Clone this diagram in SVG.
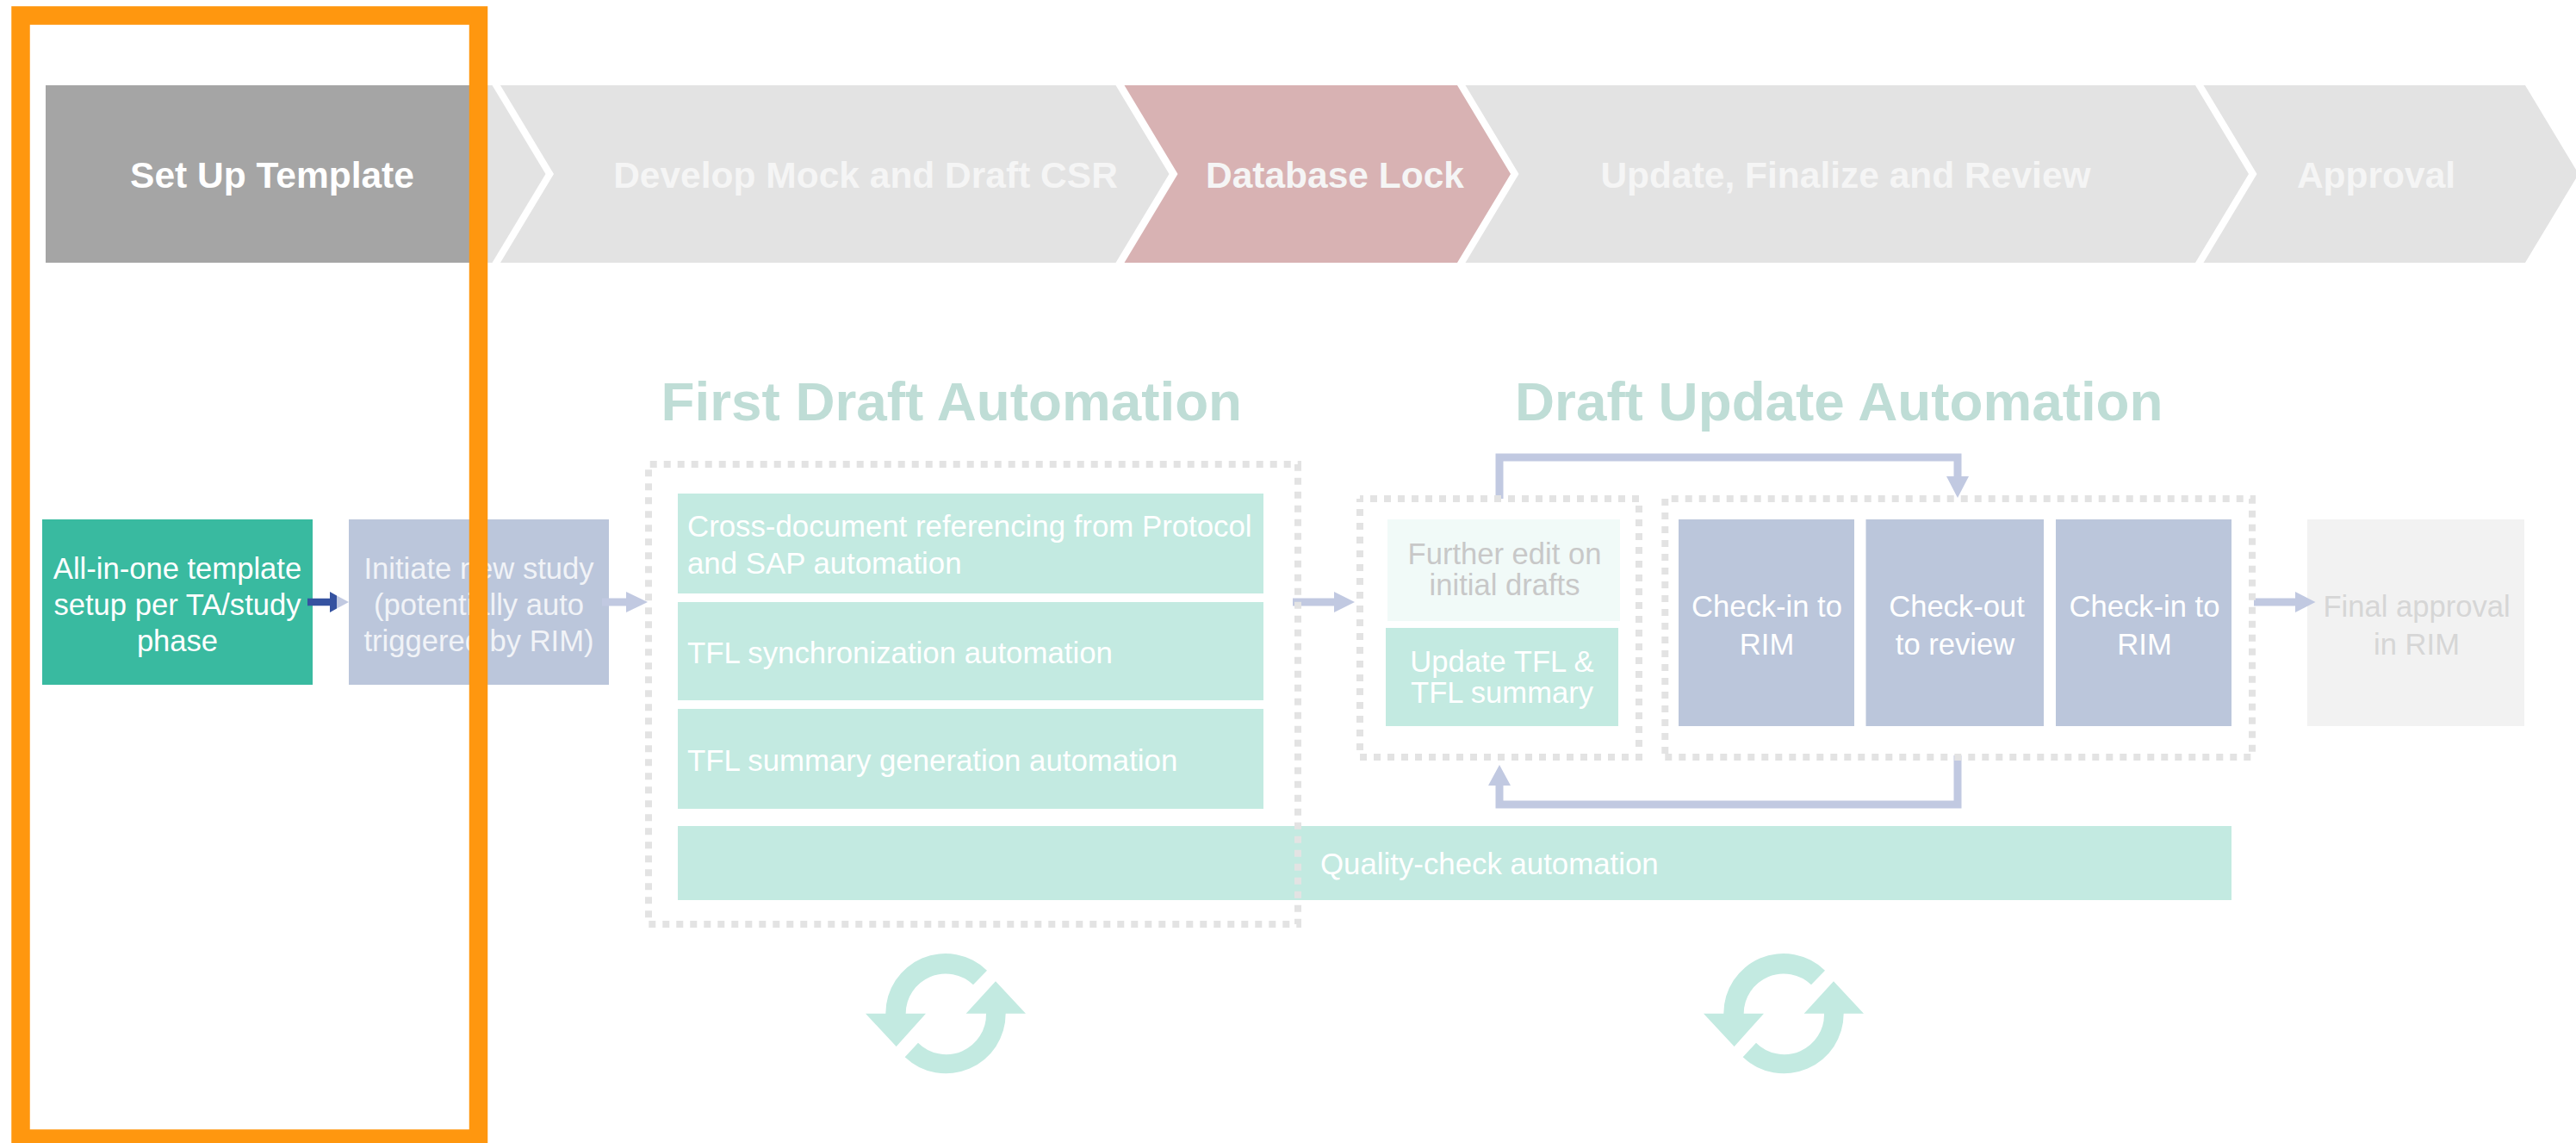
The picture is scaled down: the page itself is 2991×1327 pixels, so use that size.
<svg xmlns="http://www.w3.org/2000/svg" width="2991" height="1327" viewBox="0 0 2991 1327">
<defs>
<style>
text{font-family:"Liberation Sans",Arial,sans-serif}
.n{font-size:34.6px;fill:#fff}
.l{font-size:34.8px;fill:#fff}
.c{text-anchor:middle}
.p{font-size:42.5px;font-weight:700;fill:#f5f5f5}
.h{font-size:63.8px;font-weight:700;fill:#bfddd6}
.soft{fill:#f1faf8}
.m{fill:#c3eae1}
.b{fill:#bbc6db}
.dot{fill:none;stroke:#e3e3e3;stroke-width:8;stroke-dasharray:8 8}
.conn{fill:none;stroke:#c1c9e1;stroke-width:9}
.ah{fill:#c1c9e1}
.ring{fill:#c3eae1}
.g{fill:#c8c8c8}
.f{fill:#d6d6d6}
.s{fill:#f1f3f7}
</style>
</defs>
<g id="phase-set-up">
<rect x="53" y="99" width="492" height="206" fill="#a5a5a5"/>
<path d="M566 99H571.500L633.500 202L571.500 305H566Z" fill="#e3e3e3"/>
<text class="p c" x="316" y="217.500" style="fill:#fff">Set Up Template</text>
</g>
<g id="phase-develop">
<path d="M581 99H1295.500L1357.500 202L1295.500 305H581L643 202Z" fill="#e3e3e3"/>
<text class="p c" x="1005" y="217.500">Develop Mock and Draft CSR</text>
</g>
<g id="phase-lock">
<path d="M1305.500 99H1692L1754 202L1692 305H1305.500L1367.500 202Z" fill="#d8b2b3"/>
<text class="p c" x="1550" y="217.500">Database Lock</text>
</g>
<g id="phase-update">
<path d="M1701.500 99H2549L2611 202L2549 305H1701.500L1763.500 202Z" fill="#e3e3e3"/>
<text class="p c" x="2143" y="217.500">Update, Finalize and Review</text>
</g>
<g id="phase-approval">
<path d="M2558.500 99H2932L2994 202L2932 305H2558.500L2620.500 202Z" fill="#e3e3e3"/>
<text class="p c" x="2759" y="217.500">Approval</text>
</g>
<g id="title-first"><text class="h" x="767.500" y="488">First Draft Automation</text></g>
<g id="title-update"><text class="h" x="1759" y="488">Draft Update Automation</text></g>
<g id="template"><rect x="49" y="603" width="314" height="192" fill="#39baa0"/>
<text class="n c" x="206" y="671.500">All-in-one template</text><text class="n c" x="206" y="713.500">setup per TA/study</text><text class="n c" x="206" y="755.500">phase</text></g>
<g id="initiate"><rect class="b" x="405" y="603" width="302" height="192"/>
<text class="n c s" x="556" y="671.500">Initiate new study</text><text class="n c s" x="556" y="713.500">(potentially auto</text><text class="n c s" x="556" y="755.500">triggered by RIM)</text></g>
<g id="quality"><rect class="m" x="787" y="959" width="1804" height="86"/><text class="l" x="1533" y="1015">Quality-check automation</text></g>
<g id="cross"><rect class="m" x="787" y="573" width="680" height="116"/><text class="l" x="798" y="623">Cross-document referencing from Protocol</text><text class="l" x="798" y="665.500">and SAP automation</text></g>
<g id="sync"><rect class="m" x="787" y="699" width="680" height="114"/><text class="l" x="798" y="769.500">TFL synchronization automation</text></g>
<g id="summary"><rect class="m" x="787" y="823" width="680" height="116"/><text class="l" x="798" y="894.500">TFL summary generation automation</text></g>
<g id="final"><rect x="2679" y="603" width="252" height="240" fill="#f2f2f2"/><text class="n c f" x="2806" y="716">Final approval</text><text class="n c f" x="2806" y="760">in RIM</text></g>
<g id="connectors">
<path d="M391 691.400L405 699L391 706.600Z" class="ah"/>
<path d="M357 694.700H383V687L391 691.400V706.600L383 711V703.300H357Z" fill="#3552a0"/>
<path class="conn" d="M699 699H730"/><path class="ah" d="M727 687L752 699L727 711Z"/>
<path class="conn" d="M1501 699H1552"/><path class="ah" d="M1549 687L1573 699L1549 711Z"/>
<path class="conn" d="M2617 699H2668"/><path class="ah" d="M2665 687L2688.500 699L2665 711Z"/>
<path class="conn" d="M1741 579V531H2273V556"/><path class="ah" d="M2260 553H2286L2273 578Z"/>
<path class="conn" d="M2273 877V934H1741V909"/><path class="ah" d="M1728 912H1754L1741 888Z"/>
</g>
<g id="box-first"><path class="dot" style="stroke-dashoffset:14.300" d="M753 539H1507V1073H753"/><path class="dot" d="M753 545.300V1073"/></g>
<g id="box-edit"><path class="dot" style="stroke-dashoffset:4" d="M1579 579H1903V879H1579V579"/></g>
<g id="box-rim"><path class="dot" style="stroke-dashoffset:8.600" d="M1933.300 579H2615V879H1933.300"/><path class="dot" d="M1933.300 579V879"/></g>
<g id="further"><rect class="soft" x="1611" y="603" width="270" height="118"/><text class="n c g" x="1747" y="655">Further edit on</text><text class="n c g" x="1747" y="691">initial drafts</text></g>
<g id="update"><rect class="m" x="1609" y="729" width="270" height="114"/><text class="n c" x="1744" y="780">Update TFL &amp;</text><text class="n c" x="1744" y="816">TFL summary</text></g>
<g id="checkin1"><rect class="b" x="1949" y="603" width="204" height="240"/><text class="n c" x="2051.500" y="716">Check-in to</text><text class="n c" x="2051.500" y="760">RIM</text></g>
<g id="checkout"><rect class="b" x="2166.500" y="603" width="206.500" height="240"/><text class="n c" x="2272" y="716">Check-out</text><text class="n c" x="2270" y="760">to review</text></g>
<g id="checkin2"><rect class="b" x="2387" y="603" width="204" height="240"/><text class="n c" x="2490" y="716">Check-in to</text><text class="n c" x="2490" y="760">RIM</text></g>
<g id="cycle-first" transform="translate(990 1090) scale(.33333)">
<path class="ring" d="M45 260H115A208 208 0 0 1 468 110L420 160A139 139 0 0 0 185 260H255L152 375Z"/>
<path class="ring" d="M603 260H533A208 208 0 0 1 182 412L228 362A139 139 0 0 0 465 260H395L498 148Z"/>
</g>
<g id="cycle-update" transform="translate(1963 1090) scale(.33333)">
<path class="ring" d="M45 260H115A208 208 0 0 1 468 110L420 160A139 139 0 0 0 185 260H255L152 375Z"/>
<path class="ring" d="M603 260H533A208 208 0 0 1 182 412L228 362A139 139 0 0 0 465 260H395L498 148Z"/>
</g>
<g id="highlight"><rect x="24" y="18" width="531.500" height="1304" fill="none" stroke="#ff970f" stroke-width="21.500"/></g>
</svg>
